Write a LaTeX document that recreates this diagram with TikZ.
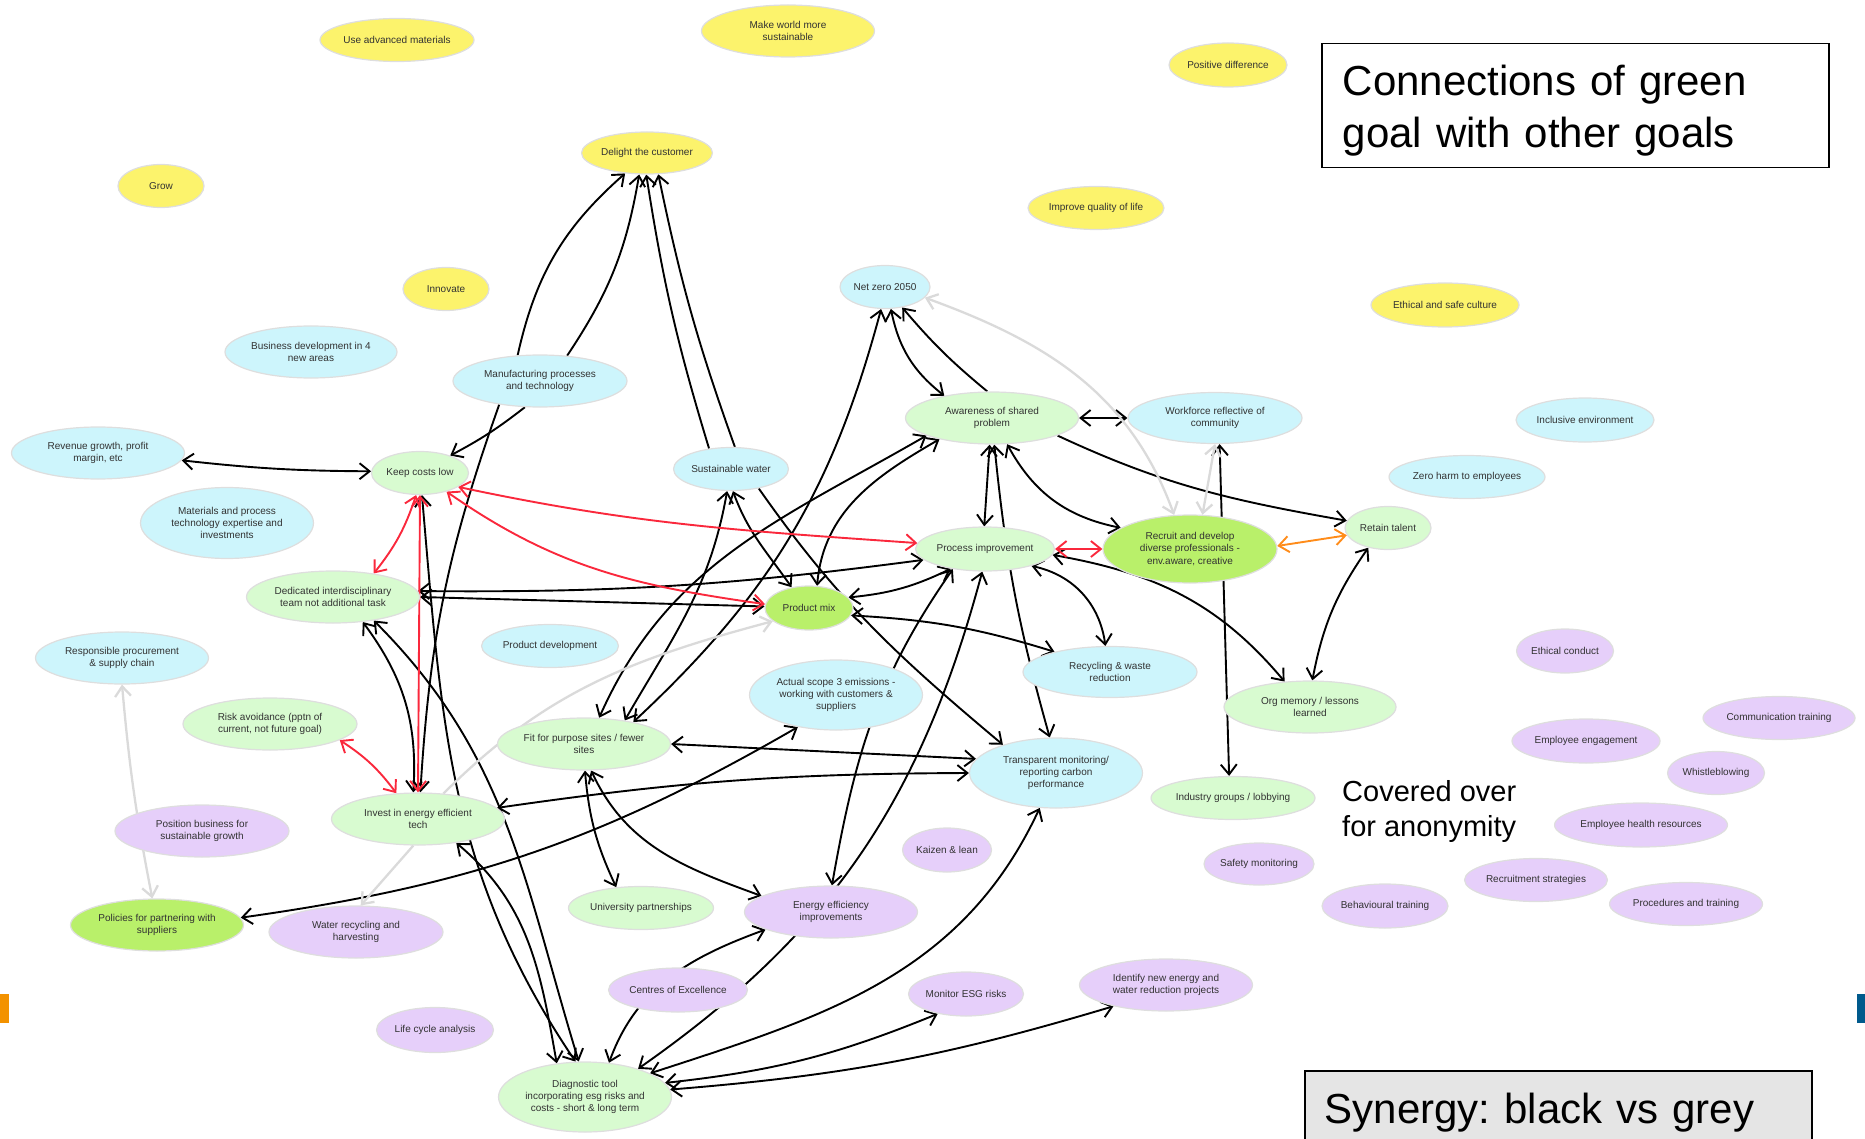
\documentclass[tikz,border=0pt]{standalone}
\usepackage{fontspec}
\setmainfont{Liberation Sans}
\frenchspacing
\usetikzlibrary{shapes.geometric, arrows.meta, backgrounds}
\definecolor{colyellow}{RGB}{252,243,108}
\definecolor{colblue}{RGB}{205,245,252}
\definecolor{colgreen}{RGB}{216,251,208}
\definecolor{colbright}{RGB}{185,240,106}
\definecolor{collilac}{RGB}{230,207,250}
\definecolor{colrim}{RGB}{222,222,222}
\definecolor{coltext}{RGB}{50,50,50}
\definecolor{colred}{RGB}{250,40,60}
\definecolor{colorange}{RGB}{255,140,26}
\definecolor{colgrey}{RGB}{218,218,218}
\definecolor{colbar}{RGB}{243,146,0}
\definecolor{colbarblue}{RGB}{0,90,140}
\tikzstyle{goal} = [ellipse,
                    draw=colrim,
                    line width=1.2pt,
                    inner xsep=-12pt,
                    inner ysep=-4pt,
                    align=center,
                    text=coltext,
                    font=\fontsize{10}{12.3}\selectfont]
\tikzstyle{yellowgoal} = [goal, fill=colyellow]
\tikzstyle{bluegoal} = [goal, fill=colblue]
\tikzstyle{greengoal} = [goal, fill=colgreen]
\tikzstyle{brightgoal} = [goal, fill=colbright]
\tikzstyle{lilacgoal} = [goal, fill=collilac]
\tikzstyle{link} = [line width=1.9pt, <->, >={Straight Barb[length=10pt,width=16pt]}]
\tikzstyle{linkred} = [link, draw=colred]
\tikzstyle{linkorange} = [link, draw=colorange]
\tikzstyle{linkgrey} = [link, draw=colgrey, line width=2.3pt]
\tikzstyle{banner} = [draw=black,
                      line width=1.5pt,
                      anchor=north west,
                      align=left,
                      inner xsep=21pt,
                      text width=465pt,
                      font=\fontsize{42}{52}\selectfont]

\begin{document}
\begin{tikzpicture}[x=1pt, y=1pt]
        \useasboundingbox (0,0) rectangle (1865,-1139);

        % strategic goals
        \node (UseMaterials) [yellowgoal, minimum width=154pt, minimum height=43pt] at (397,-40) {Use advanced materials};
        \node (MakeWorld) [yellowgoal, minimum width=173pt, minimum height=52pt] at (788,-31) {Make world more\\sustainable};
        \node (Positive) [yellowgoal, minimum width=118pt, minimum height=44pt] at (1228,-65) {Positive difference};
        \node (Delight) [yellowgoal, minimum width=131pt, minimum height=42pt] at (647,-153) {Delight the customer};
        \node (Grow) [yellowgoal, minimum width=86pt, minimum height=43pt] at (161,-186) {Grow};
        \node (Improve) [yellowgoal, minimum width=136pt, minimum height=43pt] at (1096,-208) {Improve quality of life};
        \node (Innovate) [yellowgoal, minimum width=86pt, minimum height=43pt] at (446,-289) {Innovate};
        \node (EthicalCulture) [yellowgoal, minimum width=148pt, minimum height=44pt] at (1445,-305) {Ethical and safe culture};

        % blue goals
        \node (NetZero) [bluegoal, minimum width=90pt, minimum height=43pt] at (885,-287) {Net zero 2050};
        \node (BusinessDev) [bluegoal, minimum width=172pt, minimum height=52pt] at (311,-352) {Business development in 4\\new areas};
        \node (Manufacturing) [bluegoal, minimum width=174pt, minimum height=52pt] at (540,-381) {Manufacturing processes\\and technology};
        \node (Workforce) [bluegoal, minimum width=174pt, minimum height=51pt] at (1215,-418) {Workforce reflective of\\community};
        \node (Inclusive) [bluegoal, minimum width=138pt, minimum height=44pt] at (1585,-420) {Inclusive environment};
        \node (Revenue) [bluegoal, minimum width=173pt, minimum height=52pt] at (98,-453) {Revenue growth, profit\\margin, etc};
        \node (SustWater) [bluegoal, minimum width=115pt, minimum height=43pt] at (731,-469) {Sustainable water};
        \node (ZeroHarm) [bluegoal, minimum width=156pt, minimum height=43pt] at (1467,-477) {Zero harm to employees};
        \node (Materials) [bluegoal, minimum width=173pt, minimum height=71pt] at (227,-523) {Materials and process\\technology expertise and\\investments};
        \node (ProductDev) [bluegoal, minimum width=137pt, minimum height=43pt] at (550,-646) {Product development};
        \node (Procurement) [bluegoal, minimum width=173pt, minimum height=52pt] at (122,-658) {Responsible procurement\\\& supply chain};
        \node (Recycling) [bluegoal, minimum width=174pt, minimum height=51pt] at (1110,-672) {Recycling \& waste\\reduction};
        \node (Scope3) [bluegoal, minimum width=173pt, minimum height=70pt] at (836,-695) {Actual scope 3 emissions -\\working with customers \&\\suppliers};
        \node (Transparent) [bluegoal, minimum width=173pt, minimum height=70pt] at (1056,-773) {Transparent monitoring/\\reporting carbon\\performance};

        % green goals
        \node (Awareness) [greengoal, minimum width=173pt, minimum height=52pt] at (992,-418) {Awareness of shared\\problem};
        \node (KeepCosts) [greengoal, minimum width=97pt, minimum height=43pt] at (420,-473) {Keep costs low};
        \node (Retain) [greengoal, minimum width=86pt, minimum height=43pt] at (1388,-528) {Retain talent};
        \node (Process) [greengoal, minimum width=139pt, minimum height=44pt] at (985,-549) {Process improvement};
        \node (Dedicated) [greengoal, minimum width=173pt, minimum height=52pt] at (333,-597) {Dedicated interdisciplinary\\team not additional task};
        \node (OrgMemory) [greengoal, minimum width=172pt, minimum height=52pt] at (1310,-707) {Org memory / lessons\\learned};
        \node (Risk) [greengoal, minimum width=174pt, minimum height=52pt] at (270,-724) {Risk avoidance (pptn of\\current, not future goal)};
        \node (FitSites) [greengoal, minimum width=173pt, minimum height=52pt] at (584,-744) {Fit for purpose sites / fewer\\sites};
        \node (Industry) [greengoal, minimum width=164pt, minimum height=43pt] at (1233,-798) {Industry groups / lobbying};
        \node (Invest) [greengoal, minimum width=173pt, minimum height=52pt] at (418,-819) {Invest in energy efficient\\tech};
        \node (University) [greengoal, minimum width=145pt, minimum height=43pt] at (641,-908) {University partnerships};
        \node (Diagnostic) [greengoal, minimum width=173pt, minimum height=70pt] at (585,-1097) {Diagnostic tool\\incorporating esg risks and\\costs - short \& long term};

        % green goal itself
        \node (Recruit) [brightgoal, minimum width=174pt, minimum height=68pt] at (1190,-549) {Recruit and develop\\diverse professionals -\\env.aware, creative};
        \node (ProductMix) [brightgoal, minimum width=88pt, minimum height=44pt] at (809,-608) {Product mix};
        \node (Policies) [brightgoal, minimum width=173pt, minimum height=52pt] at (157,-925) {Policies for partnering with\\suppliers};

        % lilac goals
        \node (EthicalConduct) [lilacgoal, minimum width=97pt, minimum height=44pt] at (1565,-651) {Ethical conduct};
        \node (CommTraining) [lilacgoal, minimum width=152pt, minimum height=43pt] at (1779,-718) {Communication training};
        \node (Engagement) [lilacgoal, minimum width=148pt, minimum height=44pt] at (1586,-741) {Employee engagement};
        \node (Whistle) [lilacgoal, minimum width=97pt, minimum height=43pt] at (1716,-773) {Whistleblowing};
        \node (Position) [lilacgoal, minimum width=174pt, minimum height=52pt] at (202,-831) {Position business for\\sustainable growth};
        \node (HealthRes) [lilacgoal, minimum width=173pt, minimum height=44pt] at (1641,-825) {Employee health resources};
        \node (Kaizen) [lilacgoal, minimum width=89pt, minimum height=44pt] at (947,-850) {Kaizen \& lean};
        \node (Safety) [lilacgoal, minimum width=110pt, minimum height=42pt] at (1259,-864) {Safety monitoring};
        \node (RecruitStrat) [lilacgoal, minimum width=143pt, minimum height=43pt] at (1536,-880) {Recruitment strategies};
        \node (Procedures) [lilacgoal, minimum width=153pt, minimum height=43pt] at (1686,-904) {Procedures and training};
        \node (Behavioural) [lilacgoal, minimum width=126pt, minimum height=44pt] at (1385,-906) {Behavioural training};
        \node (EnergyEff) [lilacgoal, minimum width=173pt, minimum height=52pt] at (831,-912) {Energy efficiency\\improvements};
        \node (WaterRec) [lilacgoal, minimum width=174pt, minimum height=52pt] at (356,-932) {Water recycling and\\harvesting};
        \node (Centres) [lilacgoal, minimum width=139pt, minimum height=44pt] at (678,-990) {Centres of Excellence};
        \node (MonitorESG) [lilacgoal, minimum width=115pt, minimum height=44pt] at (966,-994) {Monitor ESG risks};
        \node (IdentifyNew) [lilacgoal, minimum width=173pt, minimum height=52pt] at (1166,-985) {Identify new energy and\\water reduction projects};
        \node (LifeCycle) [lilacgoal, minimum width=117pt, minimum height=45pt] at (435,-1030) {Life cycle analysis};

        % headings
        \node (Title) [banner, minimum height=124pt] at (1321,-43) {\rule{0pt}{40pt}Connections of green\\goal with other goals};
        \node (Covered) [anchor=north west, align=left, inner sep=0pt, font=\fontsize{29}{35}\selectfont] at (1342,-780) {Covered over\\for anonymity};
        \node (Synergy) [banner, fill=black!10, inner ysep=22pt, text width=467pt, inner xsep=20pt] at (1304,-1070) {Synergy: black vs grey};
        \fill [colbar] (0,-994) rectangle (9,-1023);
        \fill [colbarblue] (1857,-994) rectangle (1865,-1023);

        \begin{scope}[on background layer]
            % synergies
            \draw [link] (Revenue.-5) to[bend right=3] (KeepCosts.178);
            \draw [link, ->] (Manufacturing.-120) to[bend left=5] (KeepCosts.30);
            \draw [link, ->] (Manufacturing.131) to[bend left=18] (Delight.-137);
            \draw [link, ->] (Manufacturing.43) to[bend right=12] (Delight.-110);
            \draw [link, ->] (Manufacturing.-150) to[bend right=8] (Invest.85);
            \draw [link, ->] (SustWater.137) to[bend left=4] (Delight.-92);
            \draw [link, ->] (SustWater.80) to[bend left=4] (Delight.-62);
            \draw [link] (KeepCosts.-85) to[out=-85,in=124] (Diagnostic.105);
            \draw [link] (Dedicated.-30) to[out=-45,in=107] (Diagnostic.100);
            \draw [link] (Dedicated.-40) to[bend left=20] (Invest.100);
            \draw [link] (Dedicated.0) -- (ProductMix.178);
            \draw [link] (Dedicated.4) to[bend right=4] (Process.-170);
            \draw [link] (Invest.-32) to[out=-40,in=100] (Diagnostic.130);
            \draw [link] (Invest.8) to[bend left=4] (Transparent.180);
            \draw [link] (FitSites.0) -- (Transparent.170);
            \draw [link] (Policies.5) to[out=8,in=-150] (Scope3.-140);
            \draw [link] (FitSites.-88) to[bend right=10] (University.140);
            \draw [link] (FitSites.-75) to[out=-65,in=160] (EnergyEff.167);
            \draw [link] (SustWater.-100) to[out=-100,in=60] (FitSites.30);
            \draw [link] (NetZero.-100) to[out=-105,in=43] (FitSites.24);
            \draw [link] (Awareness.-165) to[out=-150,in=66] (FitSites.60);
            \draw [link] (Awareness.-158) to[out=-150,in=85] (ProductMix.70);
            \draw [link] (SustWater.-85) to[out=-70,in=125] (ProductMix.130);
            \draw [link, ->] (SustWater.-35) to[out=-55,in=140] (Transparent.152);
            \draw [link] (ProductMix.15) to[bend right=10] (Process.-150);
            \draw [link] (ProductMix.-10) to[bend left=7] (Recycling.160);
            \draw [link] (Process.-20) to[bend left=35] (Recycling.100);
            \draw [link] (Process.-5) to[out=-10,in=130] (OrgMemory.135);
            \draw [link] (Retain.-135) to[bend right=12] (OrgMemory.85);
            \draw [link, ->] (Awareness.-15) to[out=-25,in=170] (Retain.170);
            \draw [link] (Awareness.0) -- (Workforce.180);
            \draw [link] (Awareness.-95) -- (Process.92);
            \draw [link] (Awareness.-85) to[bend right=5] (Transparent.100);
            \draw [link] (Awareness.-60) to[bend right=25] (Recruit.163);
            \draw [link] (NetZero.-75) to[bend right=20] (Awareness.155);
            \draw [link, ->] (Awareness.100) to[bend left=5] (NetZero.-50);
            \draw [link] (Workforce.-80) -- (Industry.100);
            \draw [link] (Diagnostic.10) to[bend right=8] (MonitorESG.-145);
            \draw [link] (Diagnostic.5) to[bend right=6] (IdentifyNew.-158);
            \draw [link] (Diagnostic.20) to[out=18,in=-115] (Transparent.-115);
            \draw [link] (Diagnostic.28) to[out=35,in=-105] (Process.-97);
            \draw [link] (Diagnostic.55) to[out=70,in=-160] (EnergyEff.-165);
            \draw [link] (Process.-148) to[out=-125,in=80] (EnergyEff.88);
            % conflicts
            \draw [linkred] (KeepCosts.-100) to[bend left=10] (Dedicated.30);
            \draw [linkred] (KeepCosts.-90) -- (Invest.90);
            \draw [linkred] (KeepCosts.-35) to[out=-35,in=172] (ProductMix.175);
            \draw [linkred] (KeepCosts.-20) to[out=-12,in=176] (Process.175);
            \draw [linkred] (Risk.-13) to[bend left=10] (Invest.130);
            \draw [linkred] (Process.0) -- (Recruit.180);
            \draw [linkorange] (Recruit.2) -- (Retain.-170);
            % weak links
            \draw [linkgrey, ->] (Invest.45) to[out=45,in=-165] (ProductMix.-160);
            \draw [linkgrey, ->] (Invest.-100) -- (WaterRec.80);
            \draw [linkgrey] (Procurement.-90) to[bend right=3] (Policies.100);
            \draw [linkgrey] (NetZero.-15) to[out=-20,in=110] (Recruit.115);
            \draw [linkgrey] (Recruit.70) -- (Workforce.-90);
        \end{scope}
    \end{tikzpicture}
\end{document}
